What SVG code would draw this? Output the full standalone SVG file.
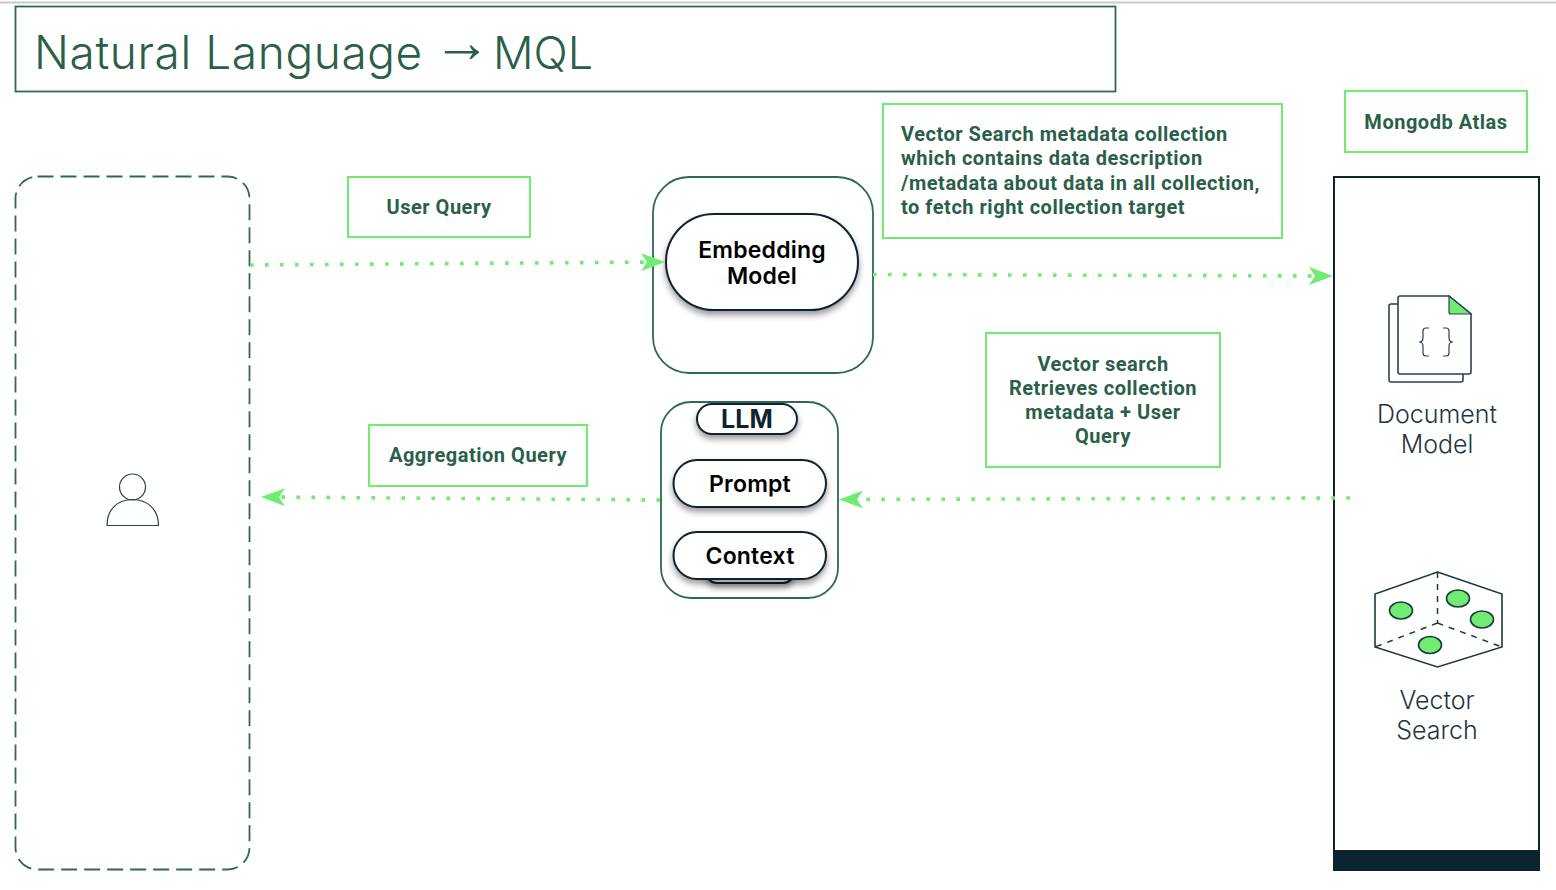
<svg xmlns="http://www.w3.org/2000/svg" width="1556" height="890" viewBox="0 0 1556 890">
<defs>
<style>
.lbl{fill:#fff;stroke:#71ec72;stroke-width:2}
.lt{font-family:"Roboto","Liberation Sans",sans-serif;font-weight:700;font-size:20px;fill:#2a6049;letter-spacing:.52px}
.mid{text-anchor:middle}
.pill{fill:#fff;stroke:#0c2330;stroke-width:2;filter:url(#sh)}
.pt{font-family:"Inter","Liberation Sans",sans-serif;font-weight:600;font-size:23px;fill:#000;text-anchor:middle;letter-spacing:.2px}
.grp{fill:#fff;stroke:#2f6a50;stroke-width:1.8}
.ic{font-family:"Inter","Liberation Sans",sans-serif;font-size:25px;font-weight:300;fill:#1f3540;text-anchor:middle}
.conn{fill:none;stroke:#71ec72;stroke-width:3.6;stroke-dasharray:3.6 11.4}
.line{fill:none;stroke:#2b4250;stroke-width:1.6}
.g{fill:#71ec72;stroke:#1c3a40;stroke-width:1.6}
</style>
<filter id="sh" x="-20%" y="-30%" width="140%" height="170%"><feDropShadow dx="0" dy="4" stdDeviation="3" flood-color="#000" flood-opacity=".4"/></filter>
<marker id="ah" viewBox="0 0 24 18" refX="23" refY="9" markerWidth="24" markerHeight="18" markerUnits="userSpaceOnUse" orient="auto"><path d="M0 0 L24 9 L0 18 L6 9 Z" fill="#71ec72"/></marker>
</defs>
<rect width="1556" height="890" fill="#fff"/>
<path d="M0 2.5H1556" stroke="#c9c9c9" stroke-width="2"/>
<g id="title"><rect x="15.500" y="6.500" width="1100" height="85" fill="#fff" stroke="#2f6a50" stroke-width="1.800"/>
<text font-family="Inter,'Liberation Sans',sans-serif" font-weight="300" fill="#2a6049"><tspan x="34" y="69" font-size="46" letter-spacing=".6">Natural Language</tspan><tspan x="433" y="62" font-size="58" font-family="'Liberation Sans',sans-serif">→</tspan><tspan x="493" y="69" font-size="45">MQL</tspan></text></g>
<g id="user-lane"><rect x="15.500" y="176.500" width="234" height="693" rx="22" fill="#fff" stroke="#2f6a50" stroke-width="1.800" stroke-dasharray="16 7"/>
<circle cx="132.500" cy="487" r="13" fill="none" stroke="#2b4250" stroke-width="1.200"/><path d="M107 525.500C107 509 118 499.500 132.500 499.500S158.500 509 158.500 525.500Z" fill="none" stroke="#2b4250" stroke-width="1.200"/></g>
<g id="user-query"><rect class="lbl" x="348" y="177" width="182" height="60"/><text class="lt mid" x="439" y="214">User Query</text></g>
<g id="aggregation-query"><rect class="lbl" x="369" y="425" width="218" height="61"/><text class="lt mid" x="478" y="462">Aggregation Query</text></g>
<g id="metadata-note"><rect class="lbl" x="883" y="104" width="399" height="134"/>
<text class="lt" x="901"><tspan x="901" y="141">Vector Search metadata collection</tspan><tspan x="901" y="165">which contains data description</tspan><tspan x="901" y="190">/metadata about data in all collection,</tspan><tspan x="901" y="214">to fetch right collection target</tspan></text></g>
<g id="retrieves-note"><rect class="lbl" x="986" y="333" width="234" height="134"/>
<text class="lt mid"><tspan x="1103" y="371">Vector search</tspan><tspan x="1103" y="395">Retrieves collection</tspan><tspan x="1103" y="419">metadata + User</tspan><tspan x="1103" y="443">Query</tspan></text></g>
<g id="atlas-label"><rect class="lbl" x="1345" y="91" width="182" height="61"/><text class="lt mid" x="1436" y="129">Mongodb Atlas</text></g>
<g id="embedding"><rect class="grp" x="653" y="177" width="220" height="196" rx="36"/>
<rect class="pill" x="666" y="214" width="192" height="96" rx="48"/>
<text class="pt"><tspan x="762" y="258">Embedding</tspan><tspan x="762" y="284">Model</tspan></text></g>
<g id="llm"><rect class="grp" x="661" y="402" width="177" height="196" rx="30"/>
<rect class="pill" x="706" y="560" width="88" height="23" rx="11"/>
<rect class="pill" x="697" y="404" width="100" height="30" rx="15"/><text class="pt" x="747" y="428" style="font-size:25px;fill:#0c2330;font-weight:700">LLM</text>
<rect class="pill" x="673.500" y="460" width="152.500" height="47" rx="23.500"/><text class="pt" x="750" y="492">Prompt</text>
<rect class="pill" x="673.500" y="532" width="152.500" height="47" rx="23.500"/><text class="pt" x="750" y="564">Context</text></g>
<g id="atlas"><rect x="1334" y="177" width="205" height="693" fill="#fff" stroke="#0c2330" stroke-width="2"/><rect x="1333" y="850" width="207" height="21" fill="#0c2330"/>
<g id="document-model">
<path class="line" d="M1398 304H1391Q1389 304 1389 306V380Q1389 382 1391 382H1461Q1463 382 1463 380V374" />
<path class="line" d="M1400 296H1449L1471 314V372Q1471 374 1469 374H1400Q1398 374 1398 372V298Q1398 296 1400 296Z" fill="#fff"/>
<path d="M1449 296L1471 314H1451Q1449 314 1449 312Z" fill="#71ec72" stroke="#2b4250" stroke-width="1.200"/>
<path d="M1429 328H1426Q1423 328 1423 331V338Q1423 342 1419 342Q1423 342 1423 346V353Q1423 356 1426 356H1429M1443 328H1446Q1449 328 1449 331V338Q1449 342 1453 342Q1449 342 1449 346V353Q1449 356 1446 356H1443" fill="none" stroke="#2b4250" stroke-width="1.200"/>
<text class="ic"><tspan x="1437" y="423">Document</tspan><tspan x="1437" y="453">Model</tspan></text></g>
<g id="vector-search">
<path d="M1437.500 572L1502 594V647L1437.500 667L1375 647V594Z" fill="#fff" stroke="#1c3a40" stroke-width="1.600"/>
<path d="M1437.500 572V623M1437.500 623L1375 647M1437.500 623L1502 647" fill="none" stroke="#1c3a40" stroke-width="1.500" stroke-dasharray="6 6"/>
<ellipse class="g" cx="1401" cy="610.500" rx="11.500" ry="8.500"/><ellipse class="g" cx="1458" cy="598.500" rx="11.500" ry="8.500"/><ellipse class="g" cx="1482" cy="619.500" rx="11.500" ry="8.500"/><ellipse class="g" cx="1430" cy="645" rx="11.500" ry="8.500"/>
<text class="ic"><tspan x="1437" y="709">Vector</tspan><tspan x="1437" y="739">Search</tspan></text></g></g>
<g id="connectors">
<path class="conn" d="M250 265L664 262" marker-end="url(#ah)"/>
<path class="conn" d="M873 274.500L1332 276" marker-end="url(#ah)"/>
<path class="conn" d="M1350 498L840 499.500" marker-end="url(#ah)"/>
<path class="conn" d="M660 500L262 497" marker-end="url(#ah)"/>
</g>
</svg>
